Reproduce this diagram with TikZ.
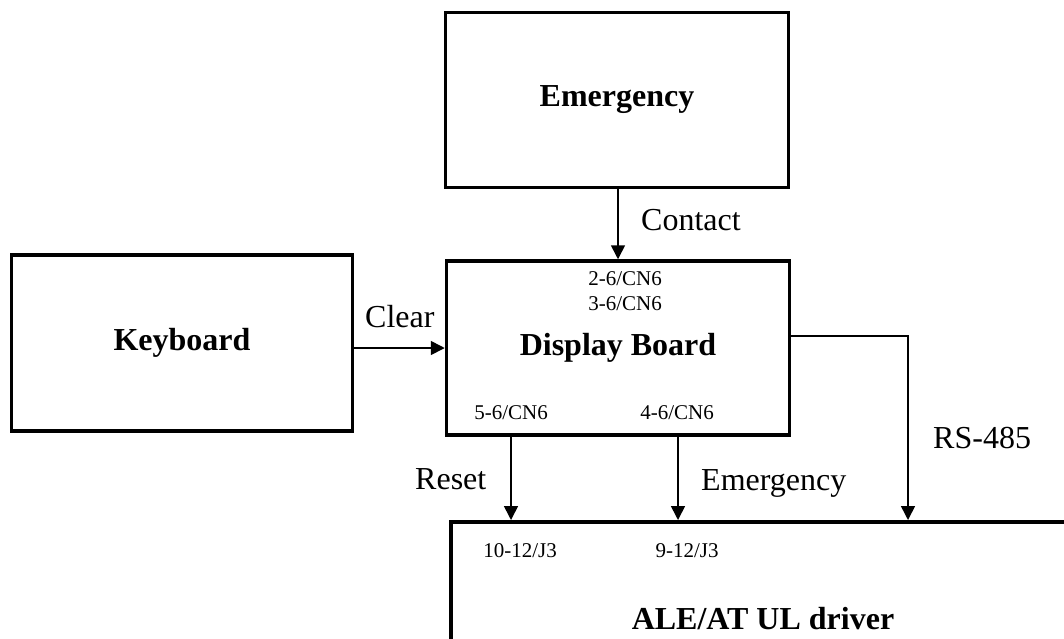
\documentclass[tikz,border=0pt]{standalone}
\usepackage{fontspec}
\setmainfont{Liberation Serif}
\usetikzlibrary{positioning,arrows.meta}

\begin{document}
\begin{tikzpicture}[
    x=1pt, y=-1pt,
    every node/.style={font=\fontsize{32}{38}\selectfont, inner sep=0pt},
    blk/.style={draw, line width=3.5pt, minimum width=343pt, minimum height=175pt, font=\fontsize{32}{38}\selectfont\bfseries},
    pin/.style={font=\fontsize{21}{25}\selectfont},
    lbl/.style={anchor=base west},
    arr/.style={-{Triangle[length=14pt,width=14pt]}, line width=1.6pt}
  ]
    \useasboundingbox (0,0) rectangle (1064,638);
    \clip (0,0) rectangle (1064,638);

    % Main blocks
    \node[blk] (emerg) at (617,100) {Emergency};
    \node[blk, minimum width=341pt, minimum height=176pt] (keyb) at (182,343) {Keyboard};
    \node[blk, minimum height=174pt] (disp) at (618,348) {Display Board};

    % Driver block runs off the page (right and bottom)
    \node[blk, minimum width=660pt, minimum height=200pt, anchor=north west] (ale) at (449,520) {};
    \node[font=\fontsize{32}{38}\selectfont\bfseries, anchor=base] (aletitle) at (763,629) {ALE/AT UL driver};

    % Connector pins
    \node[pin, anchor=base] (p26) at (625,285) {2-6/CN6};
    \node[pin, anchor=base] (p36) at (625,310) {3-6/CN6};
    \node[pin, anchor=base] (p56) at (511,419) {5-6/CN6};
    \node[pin, anchor=base] (p46) at (677,419) {4-6/CN6};
    \node[pin, anchor=base] (j10) at (520,557) {10-12/J3};
    \node[pin, anchor=base] (j9) at (687,557) {9-12/J3};

    % RS-485 entry point on the driver
    \coordinate (rsin) at (908,520);

    % Signals
    \draw[arr] (emerg.south -| 618,0) -- (disp.north -| 618,0);
    \draw[arr] (keyb.east |- disp.west) -- (disp.west);
    \draw[arr] (disp.south -| p56) -- (ale.north -| p56);
    \draw[arr] (disp.south -| 678,0) -- (ale.north -| 678,0);
    \draw[arr] (disp.east |- 0,336) -| (rsin);

    % Signal labels
    \node[lbl] (contact) at (641,230) {Contact};
    \node[lbl] (clear) at (365,327) {Clear};
    \node[lbl] (reset) at (415,489) {Reset};
    \node[lbl] (emsig) at (701,490) {Emergency};
    \node[lbl] (rs485) at (933,448) {RS-485};

  \end{tikzpicture}
\end{document}
